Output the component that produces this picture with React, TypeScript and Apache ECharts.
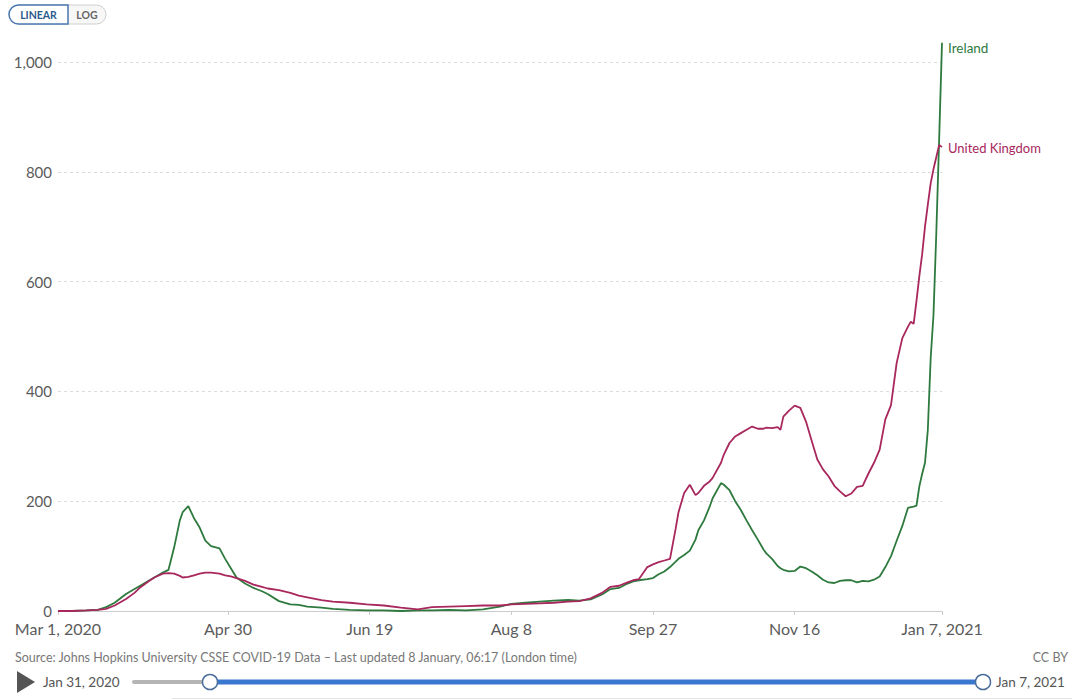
import React, { useEffect, useRef } from "react";
import * as echarts from "echarts";

// Days since Mar 1, 2020
const days = [
  0, 5, 10, 14, 17, 20, 24, 27, 29, 32, 34, 37, 39, 41, 43, 44, 46, 48, 50, 52, 54, 57, 59, 61, 63, 66, 69, 72, 74, 78,
  82, 85, 88, 93, 97, 103, 109, 115, 121, 127, 132, 138, 144, 150, 156, 160, 165, 170, 175, 180, 184, 188, 192, 195,
  198, 201, 203, 205, 208, 210, 212, 214, 216, 218, 219, 221, 223, 225, 226, 228, 230, 231, 234, 235, 237, 239, 241,
  243, 245, 247, 249, 250, 252, 254, 255, 256, 258, 260, 262, 264, 266, 268, 270, 272, 274, 276, 278, 280, 282, 284,
  286, 288, 290, 292, 294, 296, 298, 300, 301, 302, 303, 304, 305, 306, 307, 308, 309, 310, 311, 312,
];

const irelandValues = [
  0, 0, 1, 2, 7, 15, 31, 40, 46, 55, 61, 70, 75, 116, 165, 180, 191, 169, 152, 128, 118, 114, 95, 78, 61, 50, 42, 36,
  31, 18, 12, 11, 8, 6, 4, 2, 1, 1, 0, 1, 1, 2, 1, 3, 8, 13, 15, 17, 19, 20, 19, 21, 30, 40, 42, 50, 54, 56, 58, 60,
  67, 72, 80, 90, 95, 102, 110, 130, 147, 165, 190, 205, 233, 230, 220, 200, 184, 165, 147, 130, 112, 105, 95, 82, 78,
  75, 72, 73, 81, 78, 72, 65, 57, 52, 51, 55, 56, 56, 52, 55, 54, 57, 63, 80, 100, 128, 155, 188, 189, 190, 192, 227,
  250, 270, 330, 460, 540, 690, 860, 1035,
];

const ukValues = [
  0, 0, 1, 2, 4, 10, 22, 33, 43, 54, 61, 68, 69, 68, 64, 61, 62, 65, 68, 70, 70, 68, 65, 63, 60, 55, 48, 44, 41, 38,
  33, 28, 25, 20, 17, 15, 12, 10, 6, 3, 7, 8, 9, 10, 10, 12, 13, 14, 15, 17, 18, 23, 33, 44, 46, 52, 56, 58, 80, 85,
  89, 92, 95, 150, 180, 215, 230, 211, 215, 228, 236, 242, 270, 285, 306, 318, 324, 330, 336, 332, 332, 334, 333, 335,
  330, 354, 365, 374, 370, 345, 310, 276, 258, 245, 228, 218, 209, 214, 226, 228, 250, 270, 294, 349, 375, 452, 497,
  518, 527, 523, 565, 610, 650, 700, 740, 779, 805, 827, 849, 845,
];

const xTickDays = [0, 60, 110, 160, 210, 260, 312];
const xTickLabels = ["Mar 1, 2020", "Apr 30", "Jun 19", "Aug 8", "Sep 27", "Nov 16", "Jan 7, 2021"];

const seriesNames = ["Ireland", "United Kingdom"];
const seriesColors = ["#2e7a3e", "#a8275d"];

const sourceText =
  "Source: Johns Hopkins University CSSE COVID-19 Data \u2013 Last updated 8 January, 06:17 (London time)";
const licenseText = "CC BY";
const startDateText = "Jan 31, 2020";
const endDateText = "Jan 7, 2021";

const FONT = "Lato, 'Noto Sans', sans-serif";

export default function App() {
  const ref = useRef<HTMLDivElement>(null);

  useEffect(() => {
    if (!ref.current) return;
    const chart = echarts.init(ref.current, undefined, { renderer: "svg" });

    const mkSeries = (name: string, values: number[], color: string, labelOffset: number[], labelSize: number) => ({
      name,
      type: "line",
      data: days.map((d, i) => [d, values[i]]),
      showSymbol: false,
      symbol: "none",
      clip: false,
      lineStyle: { color, width: 1.8 },
      itemStyle: { color },
      emphasis: { disabled: true },
      endLabel: {
        show: true,
        formatter: "{a}",
        color,
        fontSize: labelSize,
        fontFamily: FONT,
        distance: 6,
        offset: labelOffset,
      },
    });

    chart.setOption({
      animation: false,
      textStyle: { fontFamily: FONT },
      grid: { left: 58, right: 130, top: 62, bottom: 89, containLabel: false },
      xAxis: {
        type: "value",
        min: 0,
        max: 312,
        axisLine: { show: true, lineStyle: { color: "#cccccc", width: 1 } },
        axisTick: {
          show: true,
          customValues: xTickDays,
          length: 4,
          lineStyle: { color: "#cccccc" },
        },
        axisLabel: {
          customValues: xTickDays,
          formatter: (v: number) => {
            const idx = xTickDays.indexOf(Math.round(v));
            return idx >= 0 ? xTickLabels[idx] : "";
          },
          color: "#5b5b5b",
          fontSize: 16,
          fontFamily: FONT,
          margin: 9,
        },
        splitLine: { show: false },
      },
      yAxis: {
        type: "value",
        min: 0,
        max: 1000,
        interval: 200,
        axisLine: { show: false },
        axisTick: { show: false },
        axisLabel: {
          formatter: (v: number) => v.toLocaleString("en-US"),
          color: "#5b5b5b",
          fontSize: 15,
          fontFamily: FONT,
          margin: 6,
        },
        splitLine: { show: true, lineStyle: { color: "#dcdcdc", type: [3, 3], width: 1 } },
      },
      series: [
        mkSeries(seriesNames[0], irelandValues, seriesColors[0], [0, 5], 13.5),
        mkSeries(seriesNames[1], ukValues, seriesColors[1], [0, 1], 13),
      ],
      graphic: [
        // LINEAR / LOG toggle
        {
          type: "rect",
          shape: { x: 9, y: 5, width: 97, height: 19, r: 9.5 },
          style: { fill: "#f7f7f7", stroke: "#cfcfcf", lineWidth: 1 },
        },
        {
          type: "rect",
          shape: { x: 9, y: 5, width: 59, height: 19, r: [9.5, 0, 0, 9.5] },
          style: { fill: "#ffffff", stroke: "#4a78b0", lineWidth: 1.5 },
        },
        {
          type: "text",
          style: {
            text: "LINEAR",
            x: 38.5,
            y: 15,
            fill: "#2c5a8c",
            fontSize: 10.5,
            fontWeight: "bold",
            fontFamily: FONT,
            align: "center",
            verticalAlign: "middle",
          },
        },
        {
          type: "text",
          style: {
            text: "LOG",
            x: 87,
            y: 15,
            fill: "#666666",
            fontSize: 10.5,
            fontWeight: "bold",
            fontFamily: FONT,
            align: "center",
            verticalAlign: "middle",
          },
        },
        // source line
        {
          type: "text",
          style: {
            text: sourceText,
            x: 15,
            y: 657,
            fill: "#777777",
            fontSize: 12.5,
            fontFamily: FONT,
            align: "left",
            verticalAlign: "middle",
          },
        },
        {
          type: "text",
          style: {
            text: licenseText,
            x: 1068,
            y: 657,
            fill: "#777777",
            fontSize: 12.5,
            fontFamily: FONT,
            align: "right",
            verticalAlign: "middle",
          },
        },
        // timeline
        {
          type: "polygon",
          shape: { points: [[17, 671], [35, 682], [17, 693]] },
          style: { fill: "#555555" },
        },
        {
          type: "text",
          style: {
            text: startDateText,
            x: 43,
            y: 682,
            fill: "#555555",
            fontSize: 13.5,
            fontFamily: FONT,
            align: "left",
            verticalAlign: "middle",
          },
        },
        {
          type: "line",
          shape: { x1: 134, y1: 682, x2: 210, y2: 682 },
          style: { stroke: "#b5b5b5", lineWidth: 4, lineCap: "round" },
        },
        {
          type: "line",
          shape: { x1: 210, y1: 682, x2: 983, y2: 682 },
          style: { stroke: "#3a78d0", lineWidth: 5 },
        },
        {
          type: "circle",
          shape: { cx: 210, cy: 682, r: 7.5 },
          style: { fill: "#ffffff", stroke: "#4a6d9c", lineWidth: 1.5 },
        },
        {
          type: "circle",
          shape: { cx: 983, cy: 682, r: 7.5 },
          style: { fill: "#ffffff", stroke: "#4a6d9c", lineWidth: 1.5 },
        },
        {
          type: "text",
          style: {
            text: endDateText,
            x: 996,
            y: 682,
            fill: "#555555",
            fontSize: 13.5,
            fontFamily: FONT,
            align: "left",
            verticalAlign: "middle",
          },
        },
        {
          type: "line",
          shape: { x1: 172, y1: 698.5, x2: 1072, y2: 698.5 },
          style: { stroke: "#e3e3e3", lineWidth: 1 },
        },
      ],
    });

    return () => chart.dispose();
  }, []);

  return (
    <div
      ref={ref}
      style={{ position: "fixed", left: 0, top: 0, width: 1072, height: 700, background: "#ffffff" }}
    />
  );
}
